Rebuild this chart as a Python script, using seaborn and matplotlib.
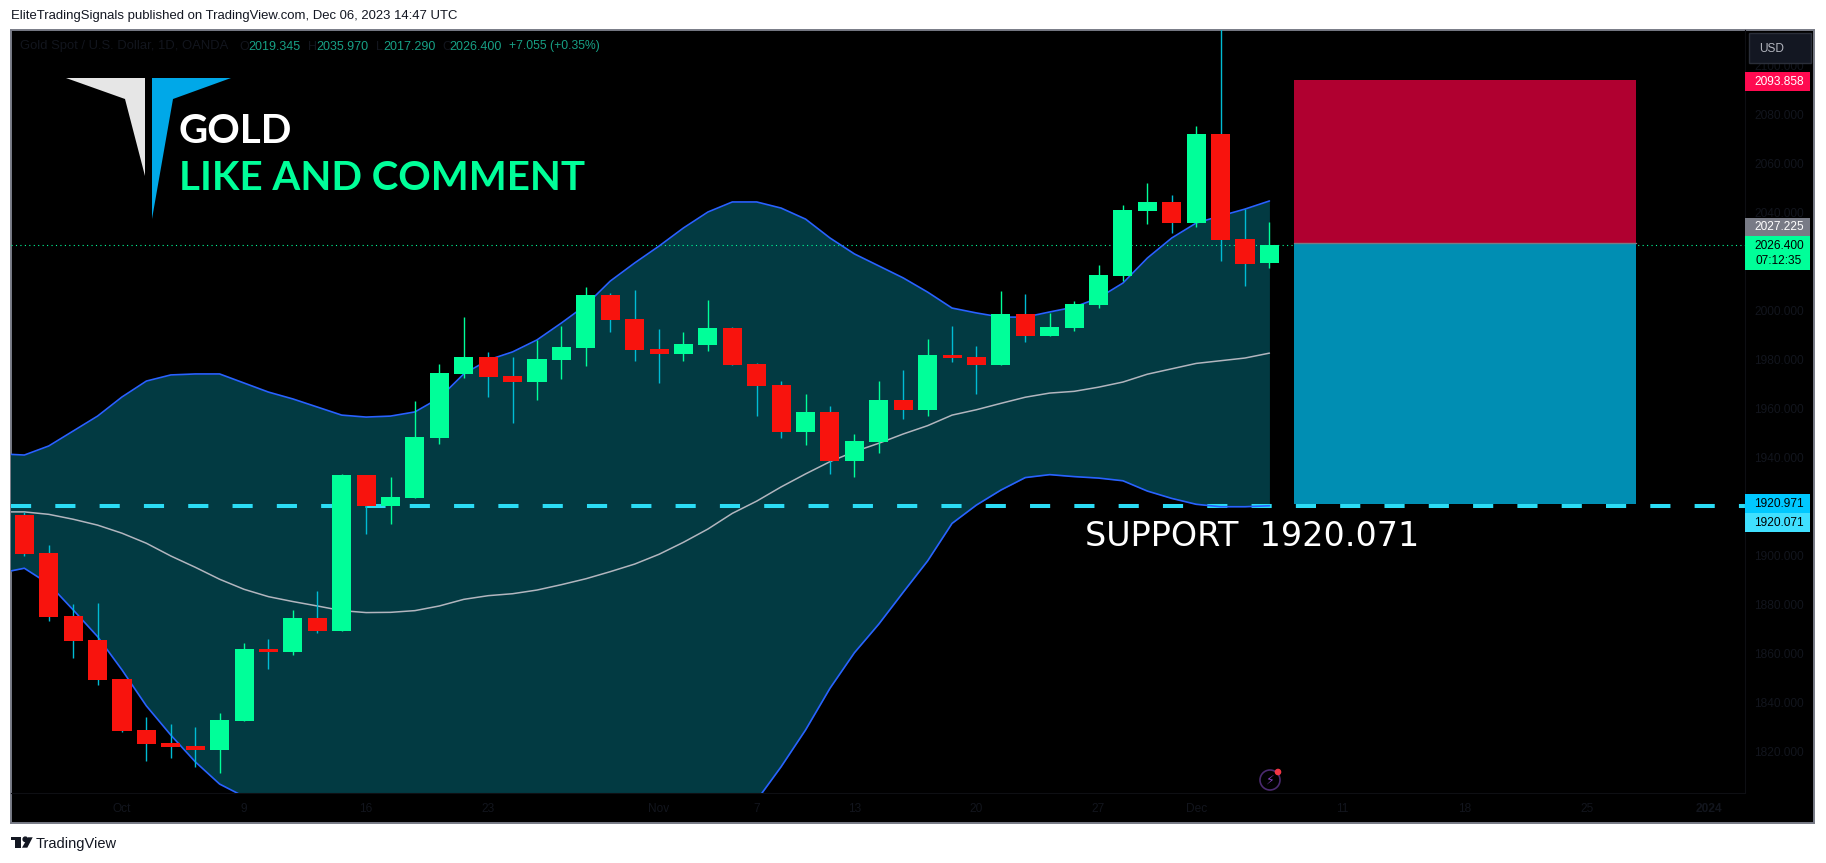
import matplotlib
matplotlib.use("Agg")
import matplotlib.pyplot as plt
from matplotlib.patches import Polygon, Rectangle, Ellipse
import pandas as pd
import seaborn as sns

## daily candles
open_ = [1916.3, 1900.8, 1875.1, 1865.3, 1849.4, 1828.6, 1823.3, 1822.0, 1820.4, 1832.2, 1861.6, 1860.4, 1874.3,
         1869.0, 1932.7, 1920.0, 1923.3, 1947.8, 1973.9, 1980.8, 1973.1, 1970.6, 1979.6, 1984.5, 2006.1, 1996.3,
         1984.1, 1982.0, 1985.7, 1992.7, 1978.0, 1969.4, 1950.2, 1958.4, 1938.4, 1946.1, 1963.3, 1959.2, 1981.6,
         1980.8, 1977.6, 1998.4, 1989.4, 1992.7, 2002.0, 2013.9, 2040.4, 2044.1, 2035.5, 2071.8, 2029.0, 2019.345]
close_ = [1900.5, 1874.7, 1864.9, 1849.0, 1828.2, 1822.9, 1821.6, 1820.4, 1832.7, 1861.6, 1860.4, 1874.3, 1869.0,
          1932.7, 1920.0, 1923.7, 1948.2, 1974.3, 1980.8, 1972.7, 1970.6, 1980.0, 1984.9, 2006.1, 1995.9, 1983.7,
          1982.0, 1986.1, 1992.7, 1977.6, 1969.0, 1950.2, 1958.4, 1938.4, 1946.5, 1963.3, 1959.2, 1981.6, 1980.4,
          1977.6, 1998.4, 1989.4, 1993.1, 2002.4, 2014.3, 2040.8, 2044.1, 2035.5, 2071.8, 2028.6, 2018.8, 2026.4]
high = [1917.6, 1904.1, 1880.0, 1880.4, 1849.4, 1833.9, 1831.0, 1829.8, 1835.5, 1864.0, 1865.7, 1877.6, 1885.3,
        1933.1, 1932.7, 1931.8, 1962.9, 1978.0, 1997.1, 1982.9, 1980.8, 1987.8, 1993.5, 2009.4, 2006.9, 2008.2,
        1992.2, 1991.0, 2004.1, 1993.1, 1978.4, 1971.0, 1965.7, 1960.8, 1949.4, 1971.0, 1975.5, 1988.2, 1993.5,
        1985.3, 2007.8, 2006.5, 1998.8, 2003.7, 2018.4, 2042.9, 2051.8, 2046.9, 2075.1, 2135.0, 2041.2, 2035.97]
low = [1899.6, 1873.1, 1858.0, 1846.9, 1827.8, 1815.9, 1817.1, 1813.5, 1811.0, 1832.2, 1853.5, 1859.2, 1868.2,
       1869.0, 1908.6, 1912.7, 1923.3, 1945.3, 1972.2, 1964.5, 1953.9, 1963.3, 1971.8, 1977.1, 1991.0, 1979.2,
       1970.2, 1979.2, 1983.3, 1977.6, 1956.7, 1947.8, 1944.9, 1933.1, 1931.8, 1941.6, 1955.5, 1956.7, 1978.8,
       1965.7, 1977.6, 1986.9, 1989.4, 1991.4, 2000.8, 2011.8, 2035.1, 2031.4, 2033.9, 2020.0, 2009.8, 2017.29]

## bollinger bands, starting one bar before the first candle
upper = [1941.3, 1940.8, 1944.5, 1950.6, 1956.7, 1964.5, 1971.0, 1973.5, 1973.9, 1973.9, 1970.2, 1966.5, 1963.7,
         1960.4, 1957.1, 1956.3, 1956.7, 1958.4, 1964.1, 1973.9, 1979.6, 1982.9, 1987.8, 1994.7, 2002.0, 2011.8,
         2019.2, 2026.1, 2033.5, 2040.0, 2044.1, 2044.1, 2041.6, 2037.1, 2029.4, 2022.9, 2018.0, 2013.1, 2007.3,
         2000.8, 1998.8, 1997.1, 1997.1, 1999.2, 2001.2, 2004.9, 2011.0, 2021.2, 2029.4, 2035.5, 2038.4, 2041.2, 2044.5]
middle = [1917.6, 1917.6, 1916.6, 1914.6, 1912.2, 1908.9, 1904.8, 1899.6, 1895.0, 1890.1, 1886.0, 1883.0, 1881.0,
          1879.2, 1877.3, 1876.5, 1876.6, 1877.3, 1879.2, 1881.9, 1883.4, 1884.2, 1885.7, 1887.9, 1890.3, 1893.2,
          1896.3, 1900.3, 1905.2, 1910.6, 1917.0, 1922.0, 1927.8, 1933.1, 1938.1, 1942.2, 1945.6, 1949.4, 1952.8,
          1957.1, 1959.3, 1961.9, 1964.4, 1966.1, 1966.8, 1968.5, 1970.6, 1973.8, 1976.0, 1978.2, 1979.3, 1980.4, 1982.4]
lower = [1892.6, 1894.6, 1888.2, 1877.6, 1866.7, 1853.1, 1838.4, 1826.5, 1815.6, 1806.5, 1801.4, 1799.5, 1798.3,
         1798.0, 1797.5, 1796.7, 1796.5, 1796.2, 1794.3, 1789.9, 1787.2, 1785.5, 1783.6, 1781.1, 1778.6, 1774.6,
         1773.4, 1774.5, 1776.9, 1781.2, 1789.9, 1799.9, 1813.6, 1828.6, 1845.6, 1860.1, 1871.8, 1884.8, 1897.6,
         1912.9, 1920.4, 1926.5, 1931.6, 1932.8, 1932.0, 1931.4, 1930.3, 1926.1, 1923.1, 1920.7, 1919.7, 1919.7, 1920.1]

## levels
target = 2093.858
entry = 2027.225
stop = 1920.971
support = 1920.071
last_price = 2026.4
position_bars = [52, 66]

## axis labels
price_ticks = [1820, 1840, 1860, 1880, 1900, 1920, 1940, 1960, 1980, 2000, 2020, 2040, 2060, 2080, 2100]
date_ticks = [4, 9, 14, 19, 26, 30, 34, 39, 44, 48, 54, 59, 64, 69]
date_labels = ["Oct", "9", "16", "23", "Nov", "7", "13", "20", "27", "Dec", "11", "18", "25", "2024"]

W, H = 1826, 863
UP = "#00ff99"
DOWN = "#f8130d"
DOWN_WICK = "#00bcd4"
BAND = "#023a42"
BLUE = "#2962ff"
FAINT = "#12151d"


def fx(x):
    return x / W


def fy(y):
    return 1 - y / H


def add_box(x0, y0, x1, y1, color, **kw):
    fig.add_artist(Rectangle((fx(x0), fy(y1)), (x1 - x0) / W, (y1 - y0) / H, transform=fig.transFigure,
                             facecolor=color, edgecolor=kw.pop("edgecolor", "none"), **kw))


def add_poly(points, color):
    fig.add_artist(Polygon([(fx(x), fy(y)) for x, y in points], closed=True, transform=fig.transFigure,
                           facecolor=color, edgecolor="none"))


def add_dot(x, y, r, **kw):
    fig.add_artist(Ellipse((fx(x), fy(y)), 2 * r / W, 2 * r / H, transform=fig.transFigure, **kw))


def add_text(x, y, s, color, size, ha="left", va="center", **kw):
    fig.text(fx(x), fy(y), s, color=color, fontsize=size, ha=ha, va=va, **kw)


sns.set_theme(style="dark")
plt.rcParams["font.family"] = ["Liberation Sans", "DejaVu Sans"]

fig = plt.figure(figsize=(W / 100, H / 100), dpi=100, facecolor="white")

## black panel with the grey frame
frame = fig.add_axes([fx(11), fy(823), (1814 - 11) / W, (823 - 30) / H], facecolor="black")
frame.set_xticks([])
frame.set_yticks([])
for s in frame.spines.values():
    s.set_color("#787b86")
    s.set_linewidth(1.4)

ax = fig.add_axes([fx(11), fy(793), (1745 - 11) / W, (793 - 30) / H], facecolor="none")

bars = pd.DataFrame({"open": open_, "close": close_, "high": high, "low": low})
bars["i"] = bars.index
bars["up"] = bars["close"] >= bars["open"]
bands = pd.DataFrame({"upper": upper, "middle": middle, "lower": lower})
bands["i"] = bands.index - 1

ax.fill_between(bands["i"], bands["lower"], bands["upper"], color=BAND, lw=0, zorder=1)
ax.axhline(last_price, color=UP, lw=0.8, ls=(0, (1, 3)), zorder=1.5)
ax.axhline(support, color="#2bdcf5", lw=2.9, ls=(0, (5, 6)), zorder=2)

sns.lineplot(data=bands, x="i", y="middle", ax=ax, color="#b2b5be", lw=1.1, zorder=3, legend=False)
sns.lineplot(data=bands, x="i", y="upper", ax=ax, color=BLUE, lw=1.2, zorder=3, legend=False)
sns.lineplot(data=bands, x="i", y="lower", ax=ax, color=BLUE, lw=1.2, zorder=3, legend=False)

wick_colors = [UP if u else DOWN_WICK for u in bars["up"]]
ax.vlines(bars["i"], bars["low"], bars["high"], colors=wick_colors, lw=1.0, zorder=4)
body_low = bars[["open", "close"]].min(axis=1)
body_high = bars[["open", "close"]].max(axis=1)
ax.bar(bars["i"], body_high - body_low, bottom=body_low, width=0.78, linewidth=0,
       color=[UP if u else DOWN for u in bars["up"]], zorder=5)

## long position box
ax.fill_between(position_bars, entry, target, color="#b00030", lw=0, zorder=6)
ax.fill_between(position_bars, stop, entry, color="#008eb3", lw=0, zorder=6)
ax.plot(position_bars, [entry, entry], color="#787b86", lw=1.0, zorder=7)

ax.set_xlim(-0.546, 70.48)
ax.set_ylim(1802.86, 2114.29)
ax.set_xlabel("")
ax.set_ylabel("")
ax.grid(False)
ax.yaxis.tick_right()
ax.set_yticks(price_ticks)
ax.set_yticklabels([f"{p:.3f}" for p in price_ticks], color=FAINT, fontsize=8.6)
ax.set_xticks(date_ticks)
ax.set_xticklabels(date_labels, color=FAINT, fontsize=8.6)
ax.get_xticklabels()[-1].set_fontweight("bold")
ax.tick_params(axis="y", length=0, pad=6.5)
ax.tick_params(axis="x", length=0, pad=7)
for name, s in ax.spines.items():
    s.set_visible(name in ("right", "bottom"))
    s.set_color("#0e0f13")
    s.set_linewidth(0.8)

## header and footer
add_text(11, 16.5, "EliteTradingSignals published on TradingView.com, Dec 06, 2023 14:47 UTC", "#131722", 9.45)
add_text(36, 844, "TradingView", "#131722", 10.5)
add_box(11, 837.3, 20.7, 840, "#131722")
add_box(15, 840, 20.7, 847.7, "#131722")
add_dot(25.3, 839.3, 2.2, color="#131722")
add_poly([(22, 847.7), (28, 837.3), (32.7, 837.3), (27.3, 847.7)], "#131722")

## legend row
TEAL = "#17a085"
add_text(20.5, 46.5, "Gold Spot / U.S. Dollar, 1D, OANDA", FAINT, 9.35)
for x, s in [(239, "O"), (307.5, "H"), (375.5, "L"), (442, "C")]:
    add_text(x, 46.5, s, FAINT, 9.0)
for x, s in [(248, "2019.345"), (316, "2035.970"), (383, "2017.290"), (449.5, "2026.400")]:
    add_text(x, 46.5, s, TEAL, 9.0)
add_text(508.5, 46.5, "+7.055 (+0.35%)", TEAL, 8.7)

## logo and big captions
add_poly([(66, 78), (145, 78), (145, 176), (125, 99)], "#e6e6e6")
add_poly([(152, 78), (231, 78), (173, 99), (152, 219)], "#00a8e8")
add_text(178.5, 143, "GOLD", "white", 29, va="baseline", family="Lato", fontweight="bold")
add_text(178.5, 190, "LIKE AND COMMENT", UP, 29, va="baseline", family="Lato", fontweight="bold")
add_text(1085, 546, "SUPPORT  1920.071", "white", 24, va="baseline", family="DejaVu Sans")

## currency button
add_box(1749, 33, 1811, 63, "#131722", edgecolor="#2a2e39", linewidth=1, zorder=5)
add_text(1759, 48.5, "USD", "#b2b5be", 8.6, zorder=6)

## price labels on the scale
for y0, y1, c, s, tc in [(72, 91, "#ff0a50", "2093.858", "white"),
                         (218, 236, "#787b86", "2027.225", "white"),
                         (494, 513, "#00c8ff", "1920.971", "black"),
                         (513, 532, "#40e0ff", "1920.071", "black")]:
    add_box(1745, y0, 1810, y1, c, zorder=5)
    add_text(1779, (y0 + y1) / 2 + 0.5, s, tc, 8.6, ha="center", zorder=6)
add_box(1745, 236, 1810, 270, UP, zorder=5)
add_text(1779, 245.5, "2026.400", "black", 8.6, ha="center", zorder=6)
add_text(1779, 260.5, "07:12:35", "black", 8.6, ha="center", zorder=6)

## lightning badge
add_dot(1270, 780, 10, facecolor="none", edgecolor="#4a2a6e", linewidth=1.2)
add_text(1270, 780, "\u26a1", "#7b3fb5", 9, ha="center", family="DejaVu Sans", zorder=6)
add_dot(1278, 772, 2.6, color="#f23645", zorder=7)

fig.savefig("out.png", dpi=100, facecolor="white")
